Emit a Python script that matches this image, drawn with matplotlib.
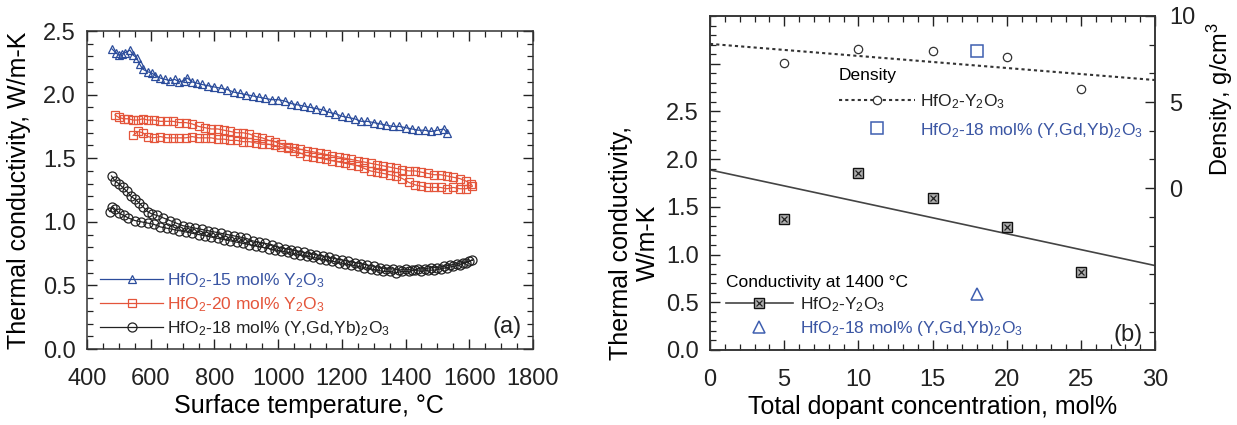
import numpy as np
import matplotlib
matplotlib.use('Agg')
import matplotlib.pyplot as plt
from matplotlib.ticker import MultipleLocator, FixedLocator, FuncFormatter, AutoMinorLocator
from matplotlib.lines import Line2D
from matplotlib.legend_handler import HandlerTuple

plt.rcParams['font.family'] = ['Liberation Sans', 'DejaVu Sans']
plt.rcParams['mathtext.fontset'] = 'custom'
plt.rcParams['mathtext.rm'] = 'Liberation Sans'
plt.rcParams['mathtext.it'] = 'Liberation Sans:italic'
plt.rcParams['mathtext.bf'] = 'Liberation Sans:bold'

# ---------------- panel (a) data ----------------
blue_T = [478, 490, 500, 510, 520, 535, 545, 556, 565, 575,
          590, 603, 615, 630, 645, 660, 675, 690, 705, 715,
          730, 745, 760, 780, 800, 820, 840, 860, 880, 900,
          920, 940, 960, 980, 1000, 1020, 1040, 1060, 1080, 1100,
          1120, 1140, 1160, 1180, 1200, 1220, 1240, 1260, 1280, 1300,
          1320, 1340, 1360, 1380, 1400, 1420, 1440, 1460, 1480, 1500,
          1520, 1530]
blue_k = [2.36, 2.33, 2.31, 2.32, 2.33, 2.35, 2.31, 2.29, 2.24, 2.20,
          2.18, 2.17, 2.15, 2.13, 2.12, 2.11, 2.12, 2.10, 2.11, 2.13,
          2.10, 2.09, 2.08, 2.07, 2.06, 2.05, 2.04, 2.02, 2.01, 2.00,
          1.99, 1.98, 1.97, 1.96, 1.96, 1.95, 1.93, 1.92, 1.91, 1.90,
          1.89, 1.88, 1.86, 1.85, 1.83, 1.82, 1.81, 1.79, 1.79, 1.78,
          1.77, 1.76, 1.75, 1.75, 1.74, 1.73, 1.72, 1.72, 1.71, 1.72,
          1.73, 1.70]

red_up_T = [488, 500, 515, 530, 545, 560, 575, 590, 610, 630,
            650, 670, 690, 710, 730, 750, 770, 790, 810, 830,
            850, 870, 890, 910, 930, 950, 970, 990, 1010, 1030,
            1050, 1070, 1090, 1110, 1130, 1150, 1170, 1190, 1210, 1230,
            1250, 1270, 1290, 1310, 1330, 1350, 1370, 1390, 1410, 1430,
            1450, 1470, 1490, 1510, 1530, 1550, 1570, 1590, 1605]
red_up_k = [1.84, 1.82, 1.81, 1.81, 1.80, 1.80, 1.81, 1.80, 1.80, 1.79,
            1.79, 1.79, 1.78, 1.78, 1.77, 1.75, 1.74, 1.73, 1.73, 1.72,
            1.71, 1.70, 1.70, 1.69, 1.67, 1.66, 1.64, 1.63, 1.61, 1.59,
            1.58, 1.57, 1.56, 1.55, 1.54, 1.53, 1.52, 1.51, 1.50, 1.49,
            1.48, 1.47, 1.46, 1.45, 1.44, 1.43, 1.42, 1.41, 1.40, 1.40,
            1.39, 1.38, 1.37, 1.37, 1.36, 1.35, 1.34, 1.32, 1.30]
red_down_T = [1610, 1590, 1570, 1550, 1530, 1510, 1490, 1470, 1450, 1430,
              1410, 1390, 1370, 1350, 1330, 1310, 1290, 1270, 1250, 1230,
              1210, 1190, 1170, 1150, 1130, 1110, 1090, 1070, 1050, 1030,
              1010, 990, 970, 950, 930, 910, 890, 870, 850, 830,
              810, 790, 770, 750, 730, 710, 690, 670, 650, 630,
              610, 590, 575, 560, 545]
red_down_k = [1.28, 1.26, 1.26, 1.27, 1.26, 1.27, 1.27, 1.27, 1.28, 1.29,
              1.31, 1.34, 1.36, 1.37, 1.38, 1.39, 1.40, 1.42, 1.44, 1.45,
              1.46, 1.47, 1.48, 1.49, 1.50, 1.51, 1.52, 1.54, 1.56, 1.58,
              1.59, 1.60, 1.61, 1.61, 1.62, 1.63, 1.63, 1.64, 1.64, 1.65,
              1.65, 1.66, 1.66, 1.66, 1.67, 1.66, 1.66, 1.66, 1.66, 1.67,
              1.66, 1.67, 1.70, 1.71, 1.68]

black_up_T = [477, 488, 500, 512, 525, 538, 550, 563, 575, 590,
              605, 620, 640, 660, 680, 700, 720, 740, 760, 780,
              800, 820, 840, 860, 880, 900, 920, 940, 960, 980,
              1000, 1020, 1040, 1060, 1080, 1100, 1120, 1140, 1160, 1180,
              1200, 1220, 1240, 1260, 1280, 1300, 1320, 1340, 1360, 1380,
              1400, 1420, 1440, 1460, 1480, 1500, 1520, 1540, 1560, 1580,
              1600]
black_up_k = [1.36, 1.32, 1.30, 1.27, 1.24, 1.20, 1.18, 1.15, 1.12, 1.08,
              1.06, 1.05, 1.03, 1.01, 0.99, 0.97, 0.96, 0.95, 0.94, 0.93,
              0.92, 0.91, 0.90, 0.89, 0.88, 0.87, 0.85, 0.84, 0.83, 0.82,
              0.80, 0.79, 0.78, 0.77, 0.76, 0.75, 0.74, 0.73, 0.72, 0.71,
              0.70, 0.69, 0.68, 0.67, 0.66, 0.65, 0.64, 0.63, 0.63, 0.62,
              0.63, 0.62, 0.63, 0.63, 0.64, 0.64, 0.65, 0.66, 0.67, 0.68,
              0.69]
black_down_T = [1610, 1590, 1570, 1550, 1530, 1510, 1490, 1470, 1450, 1430,
                1410, 1390, 1370, 1350, 1330, 1310, 1290, 1270, 1250, 1230,
                1210, 1190, 1170, 1150, 1130, 1110, 1090, 1070, 1050, 1030,
                1010, 990, 970, 950, 930, 910, 890, 870, 850, 830,
                810, 790, 770, 750, 730, 710, 690, 670, 650, 630,
                610, 590, 570, 550, 530, 515, 500, 488, 480, 472]
black_down_k = [0.70, 0.68, 0.66, 0.65, 0.64, 0.63, 0.62, 0.62, 0.61, 0.62,
                0.61, 0.61, 0.60, 0.61, 0.61, 0.62, 0.63, 0.64, 0.65, 0.66,
                0.67, 0.68, 0.69, 0.70, 0.71, 0.72, 0.73, 0.74, 0.75, 0.76,
                0.77, 0.78, 0.79, 0.80, 0.81, 0.82, 0.83, 0.84, 0.85, 0.86,
                0.87, 0.88, 0.89, 0.90, 0.91, 0.92, 0.93, 0.94, 0.95, 0.96,
                0.98, 0.99, 1.00, 1.01, 1.03, 1.05, 1.07, 1.10, 1.12, 1.08]

labels_a = [r'HfO$_2$-15 mol% Y$_2$O$_3$',
            r'HfO$_2$-20 mol% Y$_2$O$_3$',
            r'HfO$_2$-18 mol% (Y,Gd,Yb)$_2$O$_3$']

# ---------------- panel (b) data ----------------
dopant = [5, 10, 15, 20, 25]
cond_Y2O3 = [1.37, 1.86, 1.59, 1.29, 0.82]
dens_Y2O3 = [7.25, 8.10, 7.95, 7.60, 5.75]
ygd_dopant = [18]
ygd_cond = [0.59]
ygd_dens = [7.94]

BLUE = '#2b4c9b'
RED = '#e4553b'
BLACK = '#222222'
BLUE2 = '#3f5fb0'
BLUE_TXT = '#3a55a3'

W, H = 1237, 425
def rect(l, t, r, b):
    return [l / W, 1 - b / H, (r - l) / W, (b - t) / H]

fig = plt.figure(figsize=(12.37, 4.25), dpi=100)

TICK_FS = 17
LABEL_FS = 18

def style_ticks(ax, right=True):
    ax.tick_params(which='both', direction='in', top=True, right=right,
                   colors='#222222', labelsize=TICK_FS)
    ax.tick_params(which='major', length=7, width=1.0)
    ax.tick_params(which='minor', length=4, width=0.9)
    ax.tick_params(axis='x', pad=14)
    ax.tick_params(axis='y', pad=8)
    for s in ax.spines.values():
        s.set_linewidth(1.1)
        s.set_color('#333333')

# ================= panel (a) =================
ax1 = fig.add_axes(rect(87, 31, 533, 349))
l_blue, = ax1.plot(blue_T, blue_k, color=BLUE, lw=0.9, marker='^', ms=6,
                   mfc='none', mec=BLUE, mew=0.9)
l_red, = ax1.plot(red_up_T + red_down_T, red_up_k + red_down_k, color=RED, lw=0.9,
                  marker='s', ms=6, mfc='none', mec=RED, mew=0.9)
l_black, = ax1.plot(black_up_T + black_down_T, black_up_k + black_down_k, color=BLACK,
                    lw=0.9, marker='o', ms=6.5, mfc='none', mec=BLACK, mew=0.9)
ax1.set_xlim(400, 1800)
ax1.set_ylim(0, 2.5)
ax1.xaxis.set_major_locator(MultipleLocator(200))
ax1.xaxis.set_minor_locator(MultipleLocator(50))
ax1.yaxis.set_major_locator(MultipleLocator(0.5))
ax1.yaxis.set_minor_locator(MultipleLocator(0.1))
ax1.yaxis.set_major_formatter(FuncFormatter(lambda v, p: f'{v:.1f}'))
style_ticks(ax1)
ax1.set_xlabel('Surface temperature, \u00b0C', fontsize=LABEL_FS)
ax1.set_ylabel('Thermal conductivity, W/m-K', fontsize=LABEL_FS)
ax1.xaxis.set_label_coords(0.498, -0.14)
ax1.yaxis.set_label_coords(-0.125, 0.5)
ax1.legend(handles=[l_blue, l_red, l_black], labels=labels_a,
           loc='lower left', bbox_to_anchor=(0.03, 0.035), frameon=False,
           handlelength=3.6, handletextpad=0.25, labelspacing=0.3,
           borderaxespad=0, borderpad=0, fontsize=12.5, numpoints=1,
           labelcolor=[BLUE_TXT, RED, BLACK])
ax1.text(0.975, 0.035, '(a)', transform=ax1.transAxes, ha='right', va='bottom',
         fontsize=17, color=BLACK)

# ================= panel (b) =================
ax2 = fig.add_axes(rect(710, 16, 1155, 350))
ax2r = ax2.twinx()
ax2.set_xlim(0, 30)
ax2.set_ylim(0, 3.5)
ax2r.set_ylim(-9.4, 10)

# conductivity
h_sq, = ax2.plot(dopant, cond_Y2O3, ls='none', marker='s', ms=6.5,
                 mfc='#b0b0b0', mec='#111111', mew=1.0)
h_x, = ax2.plot(dopant, cond_Y2O3, ls='none', marker='x', ms=4.5,
                mec='#222222', mew=0.9)
xf = np.array(ax2.get_xlim())
cfit = np.polyfit(dopant, cond_Y2O3, 1)
ax2.plot(xf, np.polyval(cfit, xf), color='#444444', lw=1.2, zorder=1)
h_tri, = ax2.plot(ygd_dopant, ygd_cond, ls='none', marker='^', ms=8,
                  mfc='none', mec=BLUE2, mew=1.1)

# density
dfit = np.polyfit(dopant, dens_Y2O3, 1)
ax2r.plot(xf, np.polyval(dfit, xf), color='#333333', lw=1.5, ls=(0, (1.5, 1.5)))
ax2r.plot(dopant, dens_Y2O3, ls='none', marker='o', ms=6, mfc='white',
          mec='#333333', mew=0.9)
h_dsq, = ax2r.plot(ygd_dopant, ygd_dens, ls='none', marker='s', ms=9,
                   mfc='none', mec=BLUE2, mew=1.1)

ax2.xaxis.set_major_locator(MultipleLocator(5))
ax2.xaxis.set_minor_locator(MultipleLocator(1))
ax2.yaxis.set_major_locator(FixedLocator([0, 0.5, 1.0, 1.5, 2.0, 2.5, 3.0]))
ax2.yaxis.set_minor_locator(MultipleLocator(0.1))
ax2.yaxis.set_major_formatter(FuncFormatter(lambda v, p: f'{v:.1f}' if v <= 2.5 else ''))
style_ticks(ax2, right=False)
ax2r.yaxis.set_major_locator(FixedLocator([0, 5, 10]))
ax2r.yaxis.set_minor_locator(AutoMinorLocator(3))
ax2r.tick_params(which='both', direction='in', colors='#222222', labelsize=TICK_FS, pad=10)
ax2r.tick_params(which='major', length=7, width=1.0)
ax2r.tick_params(which='minor', length=4, width=0.9)
for s in ax2r.spines.values():
    s.set_linewidth(1.1)
    s.set_color('#333333')

ax2.set_xlabel('Total dopant concentration, mol%', fontsize=LABEL_FS)
ax2.xaxis.set_label_coords(0.5, -0.135)
ax2.set_ylabel('Thermal conductivity,\nW/m-K', fontsize=LABEL_FS, linespacing=1.15)
ax2.yaxis.set_label_coords(-0.112, 0.32)
ax2r.set_ylabel(r'Density, g/cm$^3$', fontsize=17)
ax2r.yaxis.set_label_coords(1.113, 0.75)

# conductivity legend
h_line = Line2D([], [], color='#444444', lw=1.2)
leg_c = ax2.legend(handles=[(h_line, h_sq, h_x), h_tri],
                   labels=[r'HfO$_2$-Y$_2$O$_3$', r'HfO$_2$-18 mol% (Y,Gd,Yb)$_2$O$_3$'],
                   handler_map={tuple: HandlerTuple(ndivide=1, pad=0)},
                   title='Conductivity at 1400 \u00b0C', title_fontsize=12.5,
                   alignment='left', loc='lower left', bbox_to_anchor=(0.035, 0.035),
                   frameon=False, handlelength=3.9, handletextpad=0.4,
                   labelspacing=0.3, borderaxespad=0, borderpad=0, fontsize=12.5,
                   numpoints=1, labelcolor=[BLACK, BLUE_TXT])

# density legend
h_dline = Line2D([], [], color='#333333', lw=1.5, ls=(0, (1.5, 1.5)), marker='o',
                 ms=6, mfc='white', mec='#333333', mew=0.9)
leg_d = ax2r.legend(handles=[h_dline, h_dsq],
                    labels=[r'HfO$_2$-Y$_2$O$_3$', r'HfO$_2$-18 mol% (Y,Gd,Yb)$_2$O$_3$'],
                    title='Density', title_fontsize=12.5, alignment='left',
                    loc='upper left', bbox_to_anchor=(0.29, 0.845), frameon=False,
                    handlelength=4.4, handletextpad=0.25, labelspacing=0.55,
                    borderaxespad=0, borderpad=0, fontsize=12.5, numpoints=1,
                    labelcolor=[BLACK, BLUE_TXT])

ax2.text(0.973, 0.045, '(b)', transform=ax2.transAxes, ha='right', va='center',
         fontsize=17, color=BLACK)

fig.savefig('out.png', dpi=100)
